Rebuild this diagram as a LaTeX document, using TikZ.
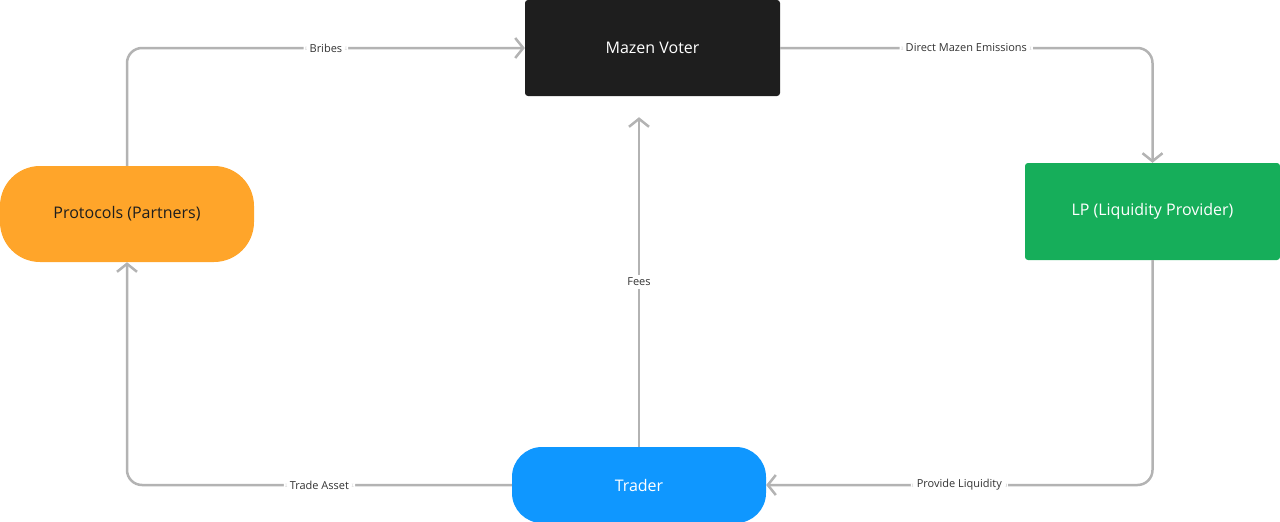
\documentclass[tikz,border=0pt]{standalone}
\usepackage{fontspec}
\setmainfont{Open Sans}
\usetikzlibrary{arrows.meta,calc}
\definecolor{linegray}{HTML}{B3B3B3}
\definecolor{darkbox}{HTML}{1E1E1E}
\definecolor{orangebox}{HTML}{FFA52A}
\definecolor{greenbox}{HTML}{16AE5A}
\definecolor{bluebox}{HTML}{0F97FF}
\definecolor{labtext}{HTML}{333333}
\tikzset{
  box/.style={minimum width=255pt, minimum height=96pt, inner sep=0pt, font=\fontsize{16}{19}\selectfont},
  arr/.style={draw=linegray, line width=2.5pt, rounded corners=15pt, -{Straight Barb[length=8pt,width=20pt]}},
  lab/.style={fill=white, text=labtext, inner xsep=6pt, inner ysep=3pt, font=\fontsize{11}{13}\selectfont}
}
\begin{document}
\begin{tikzpicture}[x=1pt,y=-1pt]
\useasboundingbox (0,0) rectangle (1280,522);
\node[box, fill=darkbox, text=white, rounded corners=3pt] (mazen) at (652.5,48) {Mazen Voter};
\node[box, fill=orangebox, text=darkbox, rounded corners=40pt, minimum width=254pt] (prot) at (127,214) {Protocols (Partners)};
\node[box, fill=greenbox, text=white, rounded corners=3pt, minimum height=97pt] (lp) at (1152.5,211.5) {LP (Liquidity Provider)};
\node[box, fill=bluebox, text=white, rounded corners=30pt, minimum width=254pt, minimum height=76pt] (trader) at (639,485) {Trader};
\coordinate (feesend) at ($(trader.north |- mazen.south)+(0,21)$);
\draw[arr] (prot.north) |- node[lab, pos=0.75] {Bribes} (mazen.west);
\draw[arr] (mazen.east) -| node[lab, pos=0.25] {Direct Mazen Emissions} (lp.north);
\draw[arr] (lp.south) |- node[lab, pos=0.75] {Provide Liquidity} (trader.east);
\draw[arr] (trader.west) -| node[lab, pos=0.25] {Trade Asset} (prot.south);
\draw[arr] (trader.north) -- node[lab] {Fees} (feesend);
\end{tikzpicture}
\end{document}
